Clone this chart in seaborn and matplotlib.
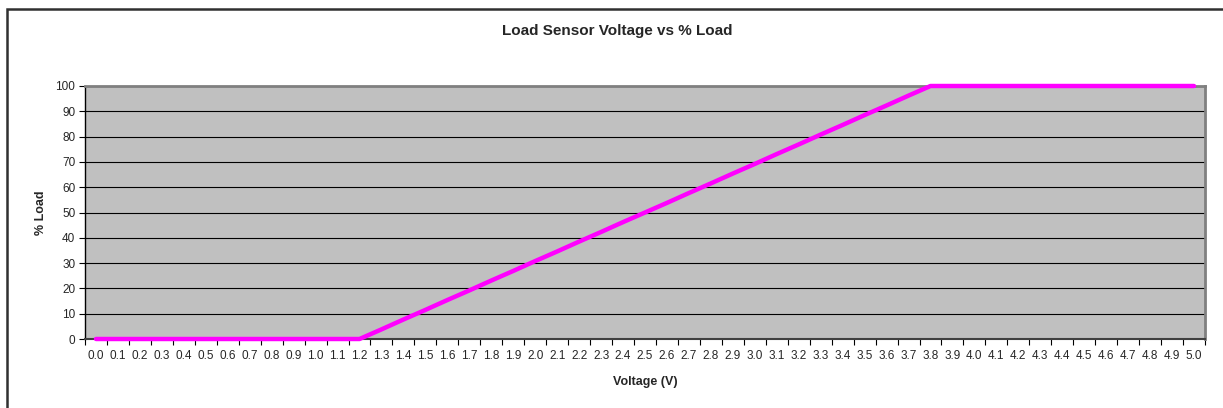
import numpy as np
import pandas as pd
import seaborn as sns
import matplotlib.pyplot as plt
from matplotlib.patches import Rectangle

sns.set_style("white")
plt.rcParams['font.family'] = ['Liberation Sans', 'DejaVu Sans']

# Data
voltage = ["0.0", "0.1", "0.2", "0.3", "0.4", "0.5", "0.6", "0.7", "0.8", "0.9",
           "1.0", "1.1", "1.2", "1.3", "1.4", "1.5", "1.6", "1.7", "1.8", "1.9",
           "2.0", "2.1", "2.2", "2.3", "2.4", "2.5", "2.6", "2.7", "2.8", "2.9",
           "3.0", "3.1", "3.2", "3.3", "3.4", "3.5", "3.6", "3.7", "3.8", "3.9",
           "4.0", "4.1", "4.2", "4.3", "4.4", "4.5", "4.6", "4.7", "4.8", "4.9",
           "5.0"]
load = [0, 0, 0, 0, 0, 0, 0, 0, 0, 0,
        0, 0, 0, 3.8, 7.7, 11.5, 15.4, 19.2, 23.1, 26.9,
        30.8, 34.6, 38.5, 42.3, 46.2, 50, 53.8, 57.7, 61.5, 65.4,
        69.2, 73.1, 76.9, 80.8, 84.6, 88.5, 92.3, 96.2, 100, 100,
        100, 100, 100, 100, 100, 100, 100, 100, 100, 100,
        100]
y_ticks = list(range(0, 101, 10))

df = pd.DataFrame({"Voltage (V)": voltage, "% Load": load})

fig = plt.figure(figsize=(12.23, 4.08), dpi=100)
ax = fig.add_axes([85 / 1223, 1 - 339 / 408, 1120 / 1223, 253 / 408])
ax.set_facecolor("#C0C0C0")

sns.lineplot(data=df, x="Voltage (V)", y="% Load", sort=False,
             color="#FF00FF", linewidth=3.2, ax=ax, zorder=5, clip_on=False)

n = len(voltage)
ax.set_xlim(-0.5, n - 0.5)
ax.set_ylim(0, 100)

# category labels centred, tick marks between categories
ax.set_xticks(np.arange(-0.5, n, 1.0))
ax.set_xticklabels([])
ax.set_xticks(np.arange(n), minor=True)
ax.set_xticklabels(voltage, minor=True, fontsize=8.5)
ax.tick_params(axis="x", which="major", direction="out", length=4, width=0.8,
               color="black", bottom=True)
ax.tick_params(axis="x", which="minor", length=0, pad=8)

ax.set_yticks(y_ticks)
ax.set_yticklabels([str(v) for v in y_ticks], fontsize=8.5)
ax.tick_params(axis="y", direction="out", length=4, width=0.8, color="black",
               left=True, pad=3)

ax.grid(axis="y", color="black", linewidth=0.8)
ax.set_axisbelow(True)

for side in ["top", "right"]:
    ax.spines[side].set_color("#808080")
    ax.spines[side].set_linewidth(2)
ax.spines["left"].set_color("black")
ax.spines["bottom"].set_color("#404040")
ax.spines["left"].set_linewidth(1)
ax.spines["bottom"].set_linewidth(1.5)

ax.set_xlabel("Voltage (V)", fontsize=9, fontweight="bold", labelpad=10)
ax.set_ylabel("% Load", fontsize=9, fontweight="bold", labelpad=6)

fig.text(617 / 1223, 1 - 31 / 408, "Load Sensor Voltage vs % Load",
         ha="center", va="center", fontsize=11, fontweight="bold")

# chart area border
fig.add_artist(Rectangle((7 / 1223, -0.1), 1.2, 1.1 - 9 / 408,
                         transform=fig.transFigure, fill=False,
                         linewidth=1.8, edgecolor="#303030"))

plt.savefig("out.png", dpi=100)
